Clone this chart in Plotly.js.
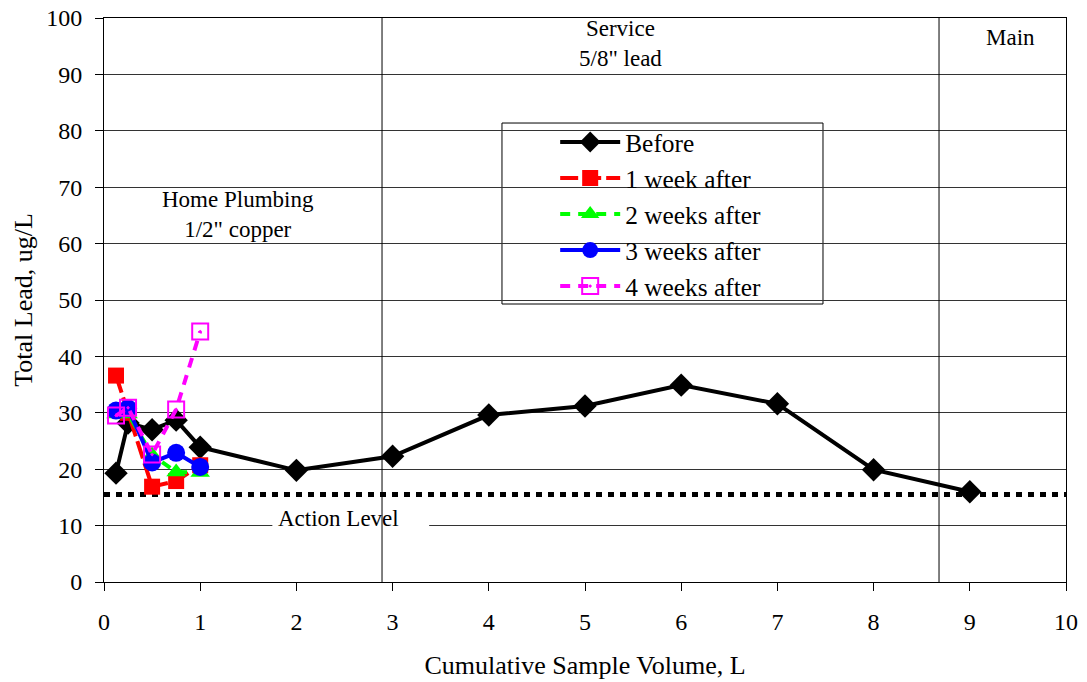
<!DOCTYPE html>
<html>
<head>
<meta charset="utf-8">
<script src="https://cdn.plot.ly/plotly-3.0.1.min.js"></script>
<style>html,body{margin:0;padding:0;background:#fff;}#chart{width:1087px;height:682px;}</style>
</head>
<body>
<div id="chart"></div>
<script>
// Data
const beforeX = [0.125, 0.25, 0.5, 0.75, 1, 2, 3, 4, 5, 6, 7, 8, 9];
const beforeY = [19.3, 28.2, 27.0, 28.7, 23.9, 19.8, 22.3, 29.6, 31.2, 34.9, 31.6, 19.9, 16.0];
const weekX = [0.125, 0.25, 0.5, 0.75, 1];
const week1Y = [36.6, 30.0, 16.9, 17.9, 20.7];
const week2Y = [29.8, 29.8, 22.5, 19.5, 19.4];
const week3Y = [30.4, 30.8, 21.2, 22.9, 20.4];
const week4Y = [29.5, 30.9, 22.6, 30.6, 44.4];
const actionLevelX = [0, 10];
const actionLevelY = [15.5, 15.5];
const boundaryX = [2.89, 8.68];
const seriesNames = ['Before', '1 week after', '2 weeks after', '3 weeks after', '4 weeks after'];
const xTicks = [0,1,2,3,4,5,6,7,8,9,10];
const yTicks = [0,10,20,30,40,50,60,70,80,90,100];

const FONT = "'Liberation Serif', 'Times New Roman', serif";

const traces = [
  {x: actionLevelX, y: actionLevelY, mode: 'lines', showlegend: false, hoverinfo: 'skip',
   line: {color: '#000', width: 5, dash: '6px,6px'}},
  {x: beforeX, y: beforeY, name: seriesNames[0], mode: 'lines+markers',
   line: {color: '#000', width: 4},
   marker: {symbol: 'diamond', size: 18, color: '#000'}},
  {x: weekX, y: week1Y, name: seriesNames[1], mode: 'lines+markers',
   line: {color: '#ff0000', width: 4, dash: '18px,5px'},
   marker: {symbol: 'square', size: 16, color: '#ff0000'}},
  {x: weekX, y: week2Y, name: seriesNames[2], mode: 'lines+markers',
   line: {color: '#00ff00', width: 4, dash: '10px,8px'},
   marker: {symbol: 'triangle-up', size: 17, color: '#00ff00'}},
  {x: weekX, y: week3Y, name: seriesNames[3], mode: 'lines+markers',
   line: {color: '#0000ff', width: 4},
   marker: {symbol: 'circle', size: 18, color: '#0000ff'}},
  {x: weekX, y: week4Y, name: seriesNames[4], mode: 'lines+markers',
   line: {color: '#ff00ff', width: 4, dash: '10px,8px'},
   marker: {symbol: 'square-open-dot', size: 16, color: '#ff00ff', line: {width: 2, color: '#ff00ff'}}}
];

const shapes = [
  // white box behind the "Action Level" label
  {type: 'rect', xref: 'x', yref: 'y', x0: 1.75, x1: 3.38, y0: 7.6, y1: 12.6,
   fillcolor: '#fff', line: {width: 0}, layer: 'between'},
  // legend frame
  {type: 'rect', xref: 'paper', yref: 'paper', x0: 0.4137, x1: 0.7474, y0: 0.4929, y1: 0.8138,
   fillcolor: '#fff', line: {width: 1, color: '#000'}, layer: 'between'}
].concat(boundaryX.map(v => ({
  type: 'line', xref: 'x', yref: 'y', x0: v, x1: v, y0: 0, y1: 100,
  line: {color: '#000', width: 1}, layer: 'between'
})));

const layout = {
  width: 1087, height: 682,
  margin: {l: 104, r: 21, t: 18, b: 100},
  paper_bgcolor: '#fff', plot_bgcolor: '#fff',
  font: {family: FONT, size: 24, color: '#000'},
  showlegend: true,
  legend: {
    x: 0.469, y: 0.8209, xanchor: 'left', yanchor: 'top',
    bgcolor: 'rgba(0,0,0,0)', borderwidth: 0,
    font: {family: FONT, size: 25.4, color: '#000'},
    itemwidth: 60, tracegroupgap: 0
  },
  xaxis: {
    range: [0, 10], tickvals: xTicks, ticktext: xTicks.map(String),
    showgrid: false, zeroline: false,
    showline: true, linecolor: '#000', linewidth: 1, mirror: true,
    ticks: 'outside', ticklen: 8, tickcolor: '#000', tickwidth: 1,
    ticklabelstandoff: 10,
    tickfont: {family: FONT, size: 24},
    title: {text: 'Cumulative Sample Volume, L', font: {family: FONT, size: 26}, standoff: 22}
  },
  yaxis: {
    range: [0, 100], tickvals: yTicks, ticktext: yTicks.map(String),
    showgrid: true, gridcolor: '#333', gridwidth: 1, zeroline: false,
    showline: true, linecolor: '#000', linewidth: 1, mirror: true,
    ticks: 'outside', ticklen: 8, tickcolor: '#000', tickwidth: 1,
    ticklabelstandoff: 8,
    tickfont: {family: FONT, size: 24},
    title: {text: 'Total Lead, ug/L', font: {family: FONT, size: 26}, standoff: 6}
  },
  shapes: shapes,
  annotations: [
    {x: 1.39, y: 65.1, xref: 'x', yref: 'y', text: 'Home Plumbing<br>1/2" copper', showarrow: false,
     font: {family: FONT, size: 23}, align: 'center'},
    {x: 5.37, y: 95.5, xref: 'x', yref: 'y', text: 'Service<br>5/8" lead', showarrow: false,
     font: {family: FONT, size: 23}, align: 'center'},
    {x: 9.42, y: 96.6, xref: 'x', yref: 'y', text: 'Main', showarrow: false,
     font: {family: FONT, size: 23}, align: 'center'},
    {x: 2.44, y: 11.2, xref: 'x', yref: 'y', text: 'Action Level', showarrow: false,
     font: {family: FONT, size: 23}}
  ]
};

Plotly.newPlot('chart', traces, layout, {displayModeBar: false, staticPlot: true});
</script>
</body>
</html>
